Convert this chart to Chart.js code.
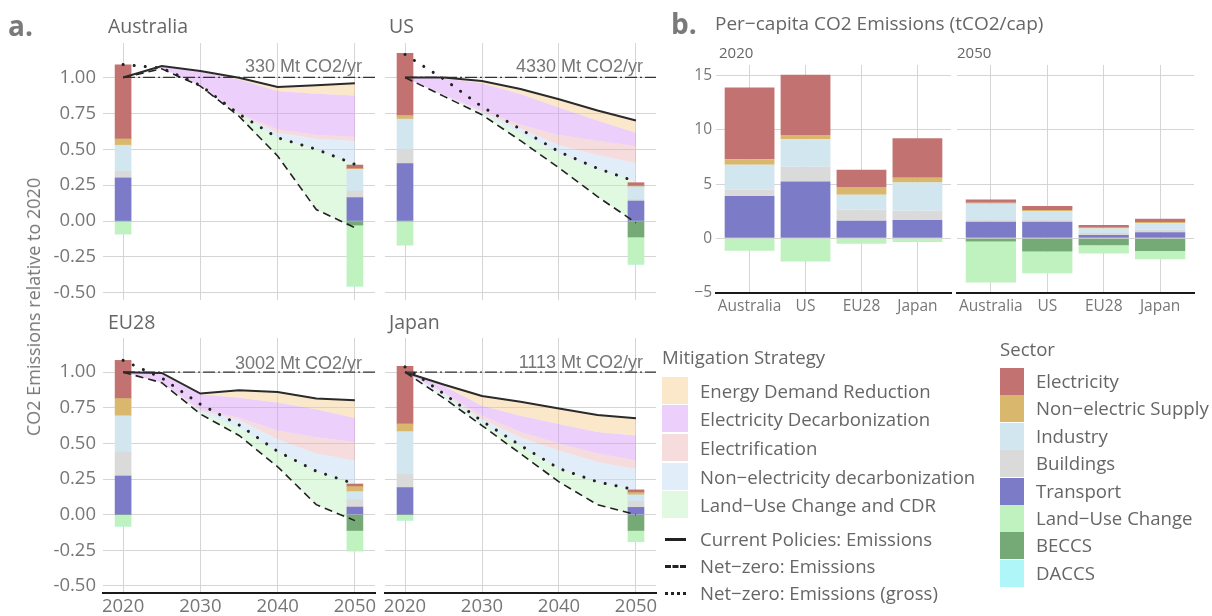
<!DOCTYPE html>
<html lang="en">
<head>
<meta charset="UTF-8">
<title>CO2 emissions: mitigation wedges and per-capita sectors</title>
<script src="https://cdn.jsdelivr.net/npm/chart.js"></script>
<style>
  body { margin: 0; background: #fff; font-family: 'Open Sans', sans-serif; color: #666; }
  #page { position: relative; width: 1212px; height: 616px; overflow: hidden; }
  #page canvas { position: absolute; left: 0; top: 0; }
  .t { position: absolute; white-space: nowrap; line-height: 1; transform: translateY(-50%); }
  .tag { font-size: 28px; font-weight: bold; color: #7a7a7a; }
  .strip { font-size: 19.5px; color: #666; }
  .note { font-family: 'Liberation Sans', Arial, sans-serif; font-size: 18px; color: #777; transform: translate(-100%, -50%); }
  .sw { position: absolute; }
  .leg { font-size: 18.6px; color: #666; }
</style>
</head>
<body>
<div id="page"></div>
<script>
// ---- data ----
const years = [2020, 2025, 2030, 2035, 2040, 2045, 2050];
const regions = ['Australia', 'US', 'EU28', 'Japan'];
const baseLabels = ['330 Mt CO2/yr', '4330 Mt CO2/yr', '3002 Mt CO2/yr', '1113 Mt CO2/yr'];
const yearTicks = [2020, 2030, 2040, 2050];
const relTicks = [-0.5, -0.25, 0, 0.25, 0.5, 0.75, 1.0];
const pcTicks = [-5, 0, 5, 10, 15];

// emissions relative to 2020, rows: Australia, US, EU28, Japan
const currentPolicies = [
  [1.00, 1.08, 1.045, 0.998, 0.933, 0.945, 0.959],
  [1.00, 1.00, 0.975, 0.92, 0.848, 0.77, 0.70],
  [1.00, 0.995, 0.85, 0.873, 0.861, 0.815, 0.803],
  [1.00, 0.914, 0.833, 0.792, 0.745, 0.70, 0.676]
];
// lower edge of each mitigation wedge
const demandEdge = [
  [1.00, 1.077, 1.04, 0.986, 0.905, 0.887, 0.875],
  [1.00, 0.995, 0.96, 0.885, 0.79, 0.70, 0.615],
  [1.00, 0.99, 0.845, 0.82, 0.787, 0.74, 0.678],
  [1.00, 0.905, 0.764, 0.694, 0.637, 0.58, 0.556]
];
const elecDecarbEdge = [
  [1.00, 1.065, 0.95, 0.75, 0.638, 0.60, 0.587],
  [1.00, 0.88, 0.77, 0.67, 0.60, 0.56, 0.52],
  [1.00, 0.93, 0.74, 0.68, 0.59, 0.544, 0.51],
  [1.00, 0.86, 0.694, 0.58, 0.50, 0.43, 0.382]
];
const electrificationEdge = [
  [1.00, 1.063, 0.945, 0.745, 0.615, 0.573, 0.557],
  [1.00, 0.878, 0.76, 0.645, 0.53, 0.46, 0.405],
  [1.00, 0.928, 0.73, 0.665, 0.53, 0.43, 0.38],
  [1.00, 0.85, 0.67, 0.544, 0.45, 0.37, 0.32]
];
const nonElecEdge = [
  [1.00, 1.062, 0.942, 0.74, 0.58, 0.50, 0.395],
  [1.00, 0.875, 0.75, 0.61, 0.47, 0.36, 0.274],
  [1.00, 0.927, 0.72, 0.61, 0.444, 0.305, 0.215],
  [1.00, 0.835, 0.645, 0.48, 0.324, 0.23, 0.174]
];
const grossEmissions = [
  [1.09, 1.065, 0.945, 0.745, 0.58, 0.50, 0.395],
  [1.16, 0.99, 0.796, 0.64, 0.483, 0.367, 0.274],
  [1.083, 0.96, 0.775, 0.63, 0.444, 0.305, 0.215],
  [1.037, 0.85, 0.657, 0.486, 0.324, 0.23, 0.174]
];
const netZero = [
  [1.00, 1.06, 0.94, 0.73, 0.453, 0.08, -0.046],
  [1.00, 0.87, 0.74, 0.56, 0.37, 0.17, -0.012],
  [1.00, 0.926, 0.706, 0.556, 0.336, 0.07, -0.042],
  [1.00, 0.82, 0.625, 0.428, 0.23, 0.07, 0.0]
];

// sector bars in panel a, per region: [2020, 2050]
const barTransport = [[0.30, 0.163], [0.40, 0.139], [0.271, 0.053], [0.19, 0.051]];
const barBuildings = [[0.045, 0.046], [0.10, 0.01], [0.169, 0.051], [0.092, 0.042]];
const barIndustry = [[0.183, 0.151], [0.21, 0.09], [0.254, 0.058], [0.301, 0.046]];
const barNonElecSupply = [[0.044, 0.005], [0.025, 0.005], [0.121, 0.035], [0.054, 0.016]];
const barElectricity = [[0.516, 0.025], [0.433, 0.023], [0.268, 0.018], [0.405, 0.019]];
const barBeccs = [[0, -0.028], [0, -0.111], [0, -0.111], [0, -0.111]];
const barLandUse = [[-0.09, -0.425], [-0.167, -0.19], [-0.081, -0.144], [-0.039, -0.079]];
const barDaccs = [[0, 0], [0, 0], [0, 0], [0, 0]];

// per-capita tCO2/cap, [2020 row, 2050 row], columns Australia, US, EU28, Japan
const pcTransport = [[3.9, 5.25, 1.63, 1.69], [1.53, 1.53, 0.3, 0.55]];
const pcBuildings = [[0.58, 1.35, 1.01, 0.86], [0.15, 0.15, 0.2, 0.25]];
const pcIndustry = [[2.3, 2.54, 1.38, 2.6], [1.5, 0.85, 0.4, 0.59]];
const pcNonElecSupply = [[0.52, 0.4, 0.71, 0.45], [0.1, 0.08, 0.08, 0.12]];
const pcElectricity = [[6.63, 5.56, 1.59, 3.64], [0.31, 0.37, 0.25, 0.3]];
const pcBeccs = [[0, 0, 0, 0], [-0.3, -1.23, -0.64, -1.17]];
const pcLandUse = [[-1.15, -2.15, -0.5, -0.35], [-3.78, -1.99, -0.77, -0.76]];
const pcDaccs = [[0, 0, 0, 0], [0, 0, 0, 0]];

const sectorNames = ['Electricity', 'Non\u2212electric Supply', 'Industry', 'Buildings', 'Transport', 'Land\u2212Use Change', 'BECCS', 'DACCS'];
const sectorColors = ['#c27371', '#d9b86e', '#d2e6ef', '#dadada', '#7b7bc7', '#bff2bf', '#75a975', '#aef6f8'];
const wedgeNames = ['Energy Demand Reduction', 'Electricity Decarbonization', 'Electrification', 'Non\u2212electricity decarbonization', 'Land\u2212Use Change and CDR'];
const wedgeColors = ['rgba(247,205,140,0.45)', 'rgba(212,150,246,0.45)', 'rgba(236,178,178,0.45)', 'rgba(198,220,245,0.5)', 'rgba(188,240,188,0.45)'];

// ---- helpers ----
const page = document.getElementById('page');
Chart.defaults.font.family = "'Open Sans', sans-serif";
Chart.defaults.color = '#777';
const gridColor = '#d5d5d5';

function addText(cls, text, x, y, extra) {
  const d = document.createElement('div');
  d.className = 't ' + cls;
  d.textContent = text;
  d.style.left = x + 'px';
  d.style.top = y + 'px';
  if (extra) Object.assign(d.style, extra);
  page.appendChild(d);
  return d;
}

function newCanvas() {
  const c = document.createElement('canvas');
  c.width = 1212; c.height = 616;
  page.appendChild(c);
  return c;
}

// positive sectors stack up from 0, negatives down from 0
const posBars = [[barTransport, 4], [barBuildings, 3], [barIndustry, 2], [barNonElecSupply, 1], [barElectricity, 0]];
const negBars = [[barBeccs, 6], [barLandUse, 5], [barDaccs, 7]];

function regionChart(r, box) {
  const edges = [currentPolicies[r], demandEdge[r], elecDecarbEdge[r], electrificationEdge[r], nonElecEdge[r], netZero[r]];
  const ds = edges.map((e, k) => ({
    type: 'line',
    data: years.map((yr, j) => ({ x: yr, y: e[j] })),
    borderColor: 'rgba(0,0,0,0)', borderWidth: 1, pointRadius: 0,
    fill: k === 0 ? false : '-1',
    backgroundColor: k === 0 ? 'rgba(0,0,0,0)' : wedgeColors[k - 1],
    order: 5
  }));

  // floating bar segments at 2020 and 2050
  const barYears = [2020, 2050];
  const addStack = (list, sign) => {
    const run = [0, 0];
    list.forEach(([arr, ci]) => {
      const data = barYears.map((yr, t) => {
        const lo = run[t];
        run[t] += arr[r][t];
        return { x: yr, y: sign > 0 ? [lo, run[t]] : [run[t], lo] };
      });
      ds.push({ type: 'bar', data, backgroundColor: sectorColors[ci], borderWidth: 0,
        barThickness: 16, grouped: false, order: 3 });
    });
  };
  addStack(posBars, 1);
  addStack(negBars, -1);

  ds.push({ type: 'line', data: [{ x: 2020, y: 1 }, { x: 2052.6, y: 1 }],
    borderColor: '#333', borderWidth: 1.2, borderDash: [12, 3, 2, 3], pointRadius: 0, fill: false, order: 2 });
  ds.push({ type: 'line', data: years.map((yr, j) => ({ x: yr, y: currentPolicies[r][j] })),
    borderColor: '#2a2a2a', borderWidth: 2, pointRadius: 0, fill: false, order: 1 });
  ds.push({ type: 'line', data: years.map((yr, j) => ({ x: yr, y: netZero[r][j] })),
    borderColor: '#222', borderWidth: 1.6, borderDash: [8, 5], pointRadius: 0, fill: false, order: 1 });
  ds.push({ type: 'line', data: years.map((yr, j) => ({ x: yr, y: grossEmissions[r][j] })),
    borderColor: '#222', borderWidth: 3, borderDash: [0.1, 11], borderCapStyle: 'round',
    pointRadius: 0, fill: false, order: 1 });

  new Chart(newCanvas(), {
    data: { datasets: ds },
    options: {
      responsive: false, animation: false,
      layout: { padding: { left: box.pl, right: box.pr, top: box.pt, bottom: box.pb } },
      plugins: { legend: { display: false }, tooltip: { enabled: false } },
      scales: {
        x: {
          type: 'linear', min: 2017.4, max: 2052.6, offset: false,
          afterBuildTicks: s => { s.ticks = yearTicks.map(v => ({ value: v })); },
          afterFit: s => { s.height = box.xh; },
          grid: { color: gridColor, drawTicks: false, offset: false },
          border: { display: box.showX, color: '#1a1a1a', width: 2 },
          ticks: { display: box.showX, padding: 3, autoSkip: false, maxRotation: 0,
            font: { size: 18.5 }, color: '#777', callback: v => String(v) }
        },
        y: {
          type: 'linear', min: -0.55, max: 1.24,
          afterBuildTicks: s => { s.ticks = relTicks.map(v => ({ value: v })); },
          afterFit: s => { s.width = box.yw; },
          grid: { color: gridColor, drawTicks: false },
          border: { display: false },
          ticks: { display: box.showY, padding: 7, font: { size: 18.5 }, color: '#777',
            callback: v => v.toFixed(2) }
        }
      }
    }
  });
}

regionChart(0, { pl: 0, yw: 103, pr: 837, pt: 43, pb: 311, xh: 5, showX: false, showY: true });
regionChart(1, { pl: 385, yw: 0, pr: 556, pt: 43, pb: 311, xh: 5, showX: false, showY: false });
regionChart(2, { pl: 0, yw: 103, pr: 837, pt: 338, pb: 0, xh: 23, showX: true, showY: true });
regionChart(3, { pl: 385, yw: 0, pr: 556, pt: 338, pb: 0, xh: 23, showX: true, showY: false });

// panel b: per-capita stacked bars, one chart per year
const pcStack = [[pcTransport, 4], [pcBuildings, 3], [pcIndustry, 2], [pcNonElecSupply, 1], [pcElectricity, 0],
  [pcBeccs, 6], [pcLandUse, 5], [pcDaccs, 7]];

function perCapitaChart(t, box) {
  const ds = pcStack.map(([arr, ci]) => ({
    type: 'bar',
    label: sectorNames[ci],
    data: arr[t].map((v, i) => ({ x: i + 1, y: v })),
    backgroundColor: sectorColors[ci], borderWidth: 0,
    barPercentage: 0.89, categoryPercentage: 1
  }));
  new Chart(newCanvas(), {
    data: { datasets: ds },
    options: {
      responsive: false, animation: false,
      layout: { padding: { left: box.pl, right: box.pr, top: box.pt, bottom: box.pb } },
      plugins: { legend: { display: false }, tooltip: { enabled: false } },
      scales: {
        x: {
          type: 'linear', min: 0.4, max: 4.6, stacked: true, offset: false,
          afterBuildTicks: s => { s.ticks = regions.map((n, i) => ({ value: i + 1 })); },
          afterFit: s => { s.height = 23; },
          grid: { color: gridColor, drawTicks: false, offset: false },
          border: { display: true, color: '#1a1a1a', width: 2 },
          ticks: { padding: 4, autoSkip: false, maxRotation: 0, font: { size: 15.5 }, color: '#777',
            callback: v => regions[v - 1] }
        },
        y: {
          type: 'linear', min: -5.05, max: 16, stacked: true,
          afterBuildTicks: s => { s.ticks = pcTicks.map(v => ({ value: v })); },
          afterFit: s => { s.width = box.yw; },
          grid: { color: gridColor, drawTicks: false },
          border: { display: false },
          ticks: { display: box.showY, padding: 4, font: { size: 15.5 }, color: '#777',
            callback: v => String(v).replace('-', '\u2212') }
        }
      }
    }
  });
}

perCapitaChart(0, { pl: 0, yw: 716, pr: 261, pt: 65, pb: 300, showY: true });
perCapitaChart(1, { pl: 957, yw: 0, pr: 18, pt: 65, pb: 300, showY: false });

// ---- labels ----
addText('tag', 'a.', 8, 25);
addText('tag', 'b.', 671, 23);
addText('strip', 'Australia', 108, 26);
addText('strip', 'US', 389, 26);
addText('strip', 'EU28', 108, 322);
addText('strip', 'Japan', 389, 322);
addText('note', baseLabels[0], 362, 66);
addText('note', baseLabels[1], 643, 66);
addText('note', baseLabels[2], 362, 363);
addText('note', baseLabels[3], 643, 362);
addText('strip', 'Per\u2212capita CO2 Emissions (tCO2/cap)', 715, 23, { fontSize: '19px' });
addText('strip', '2020', 719, 52, { fontSize: '15px' });
addText('strip', '2050', 957, 52, { fontSize: '15px' });
addText('strip', 'CO2 Emissions relative to 2020', 33, 307,
  { transform: 'translate(-50%, -50%) rotate(-90deg)', fontSize: '18px', color: '#777' });

// mitigation legend
addText('leg', 'Mitigation Strategy', 662, 357);
const mitY = [391, 419, 448, 477, 505];
wedgeNames.forEach((n, i) => {
  const s = document.createElement('div');
  s.className = 'sw';
  Object.assign(s.style, { left: '662px', top: (mitY[i] - 14) + 'px', width: '26px', height: '27px', background: wedgeColors[i] });
  page.appendChild(s);
  addText('leg', n, 700, mitY[i]);
});
const lineLeg = [['Current Policies: Emissions', 'solid'], ['Net\u2212zero: Emissions', 'dashed'], ['Net\u2212zero: Emissions (gross)', 'dotted']];
const lineY = [539, 566, 593];
lineLeg.forEach(([n, st], i) => {
  const s = document.createElement('div');
  s.className = 'sw';
  Object.assign(s.style, { left: '665px', top: (lineY[i] - 1) + 'px', width: '21px', height: '0px',
    borderTop: '3px ' + st + ' #222' });
  page.appendChild(s);
  addText('leg', n, 700, lineY[i]);
});

// sector legend
addText('leg', 'Sector', 1000, 349);
const secY = [381, 408, 436, 463, 491, 518, 545, 573];
sectorNames.forEach((n, i) => {
  const s = document.createElement('div');
  s.className = 'sw';
  Object.assign(s.style, { left: '1000px', top: (secY[i] - 13) + 'px', width: '24px', height: '27px', background: sectorColors[i] });
  page.appendChild(s);
  addText('leg', n, 1036, secY[i]);
});
</script>
</body>
</html>
